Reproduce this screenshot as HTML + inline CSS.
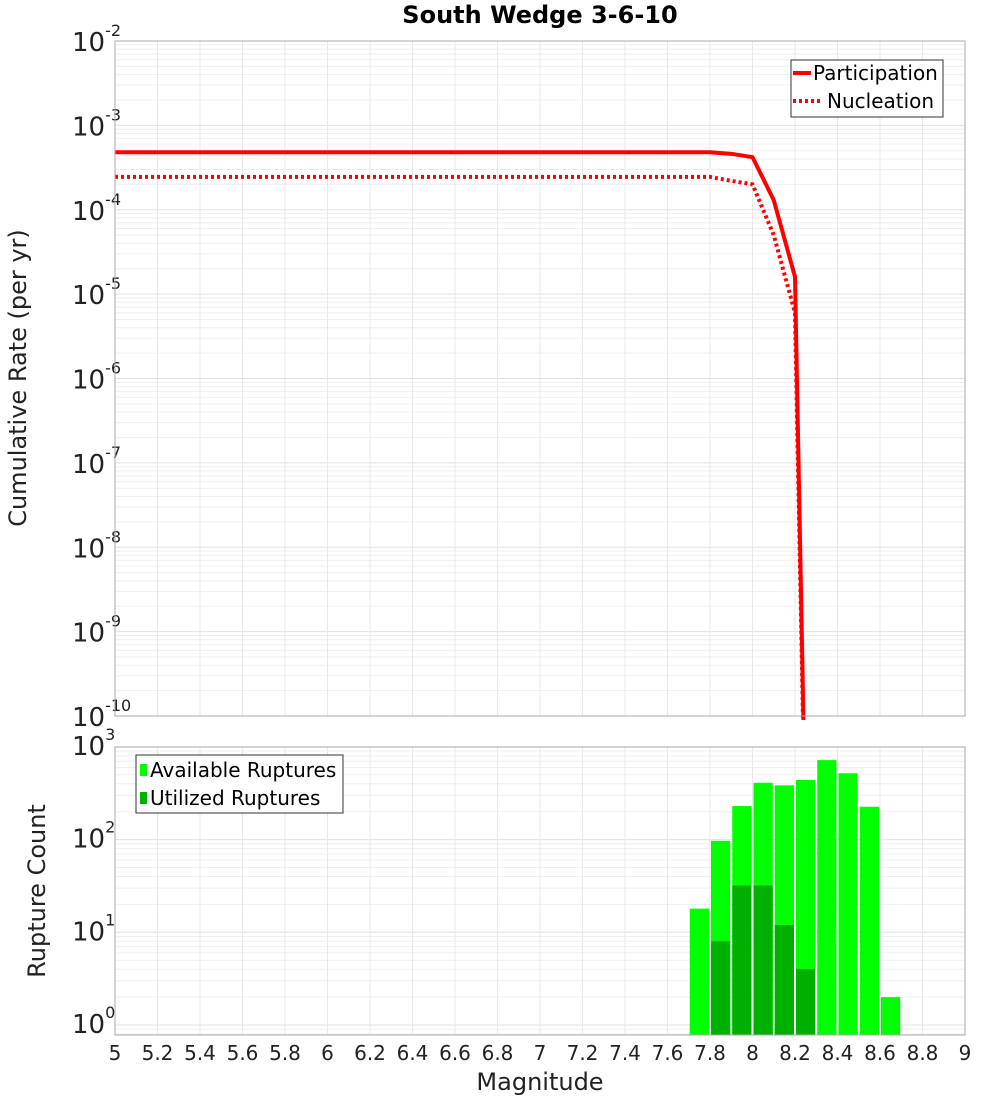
<!DOCTYPE html>
<html><head><meta charset="utf-8"><style>
html,body{margin:0;padding:0;background:#fff;overflow:hidden;width:1000px;height:1100px}
svg{display:block}
</style></head><body>
<svg id="chart" width="1000" height="1100" xmlns="http://www.w3.org/2000/svg" font-family="DejaVu Sans, Liberation Sans, sans-serif"></svg>
<script>
const magnitudes=[5.0,7.8,7.9,8.0,8.1,8.2,8.3];
const participation=[4.8e-4,4.8e-4,4.6e-4,4.2e-4,1.3e-4,1.6e-5,1e-18];
const nucleation=[2.45e-4,2.45e-4,2.2e-4,2.0e-4,5e-5,6e-6,1e-18];
const binStarts=[7.7,7.8,7.9,8.0,8.1,8.2,8.3,8.4,8.5,8.6];
const available=[18,97,230,410,385,440,720,520,226,2];
const utilized=[0,8,32,32,12,4,0,0,0,0];
const xTicks=[5,5.2,5.4,5.6,5.8,6,6.2,6.4,6.6,6.8,7,7.2,7.4,7.6,7.8,8,8.2,8.4,8.6,8.8,9];

const svg=document.getElementById('chart');
const NS='http://www.w3.org/2000/svg';
function mk(tag,attrs,parent){const e=document.createElementNS(NS,tag);for(const k in attrs)e.setAttribute(k,attrs[k]);(parent||svg).appendChild(e);return e;}
const X0=115,X1=965;
const xs=v=>X0+(v-5)/4*(X1-X0);
const T0=41,T1=716;
const ys1=v=>T0+(-2-Math.log10(v))*(T1-T0)/8;
const B0=747,B1=1035,BD=92.7;
const ys2=v=>1025-Math.log10(v)*BD;

function grid(top,bot,ysf,lo,hi,name){
  const g=mk('g',{});
  
  
  for(let d=lo;d<hi;d++){for(let m=1;m<10;m++){const y=ysf(m*Math.pow(10,d));if(y<top-0.5||y>bot+0.5)continue;
    mk('line',{x1:X0,x2:X1,y1:y,y2:y,stroke:m==1?'#e0e0e0':'#efefef','stroke-width':1},g);}}
  xTicks.forEach(t=>mk('line',{x1:xs(t),x2:xs(t),y1:top,y2:bot,stroke:'#e8e8e8','stroke-width':1},g));
}
grid(T0,T1,ys1,-10,-1,'top-grid');
grid(B0,B1,ys2,-1,4,'bottom-grid');

let t=mk('text',{x:540,y:23,'text-anchor':'middle','font-size':24,'font-weight':'bold'});
t.textContent='South Wedge 3-6-10';


for(let e=-10;e<=-2;e++){const y=ys1(Math.pow(10,e));
  const tx=mk('text',{x:72,y:y+10,'font-size':26,fill:'#222'});
  
  
  tx.innerHTML='10<tspan dy="-15" font-size="16">'+e+'</tspan>';}
for(let e=0;e<=3;e++){const y=ys2(Math.pow(10,e));
  const tx=mk('text',{x:72,y:y+8,'font-size':26,fill:'#222'});
  
  
  tx.innerHTML='10<tspan dy="-15" font-size="16">'+e+'</tspan>';}

const defs=mk('defs',{});
const cp=mk('clipPath',{id:'c1'},defs);mk('rect',{x:X0,y:T0,width:X1-X0,height:T1-T0+4},cp);

function pts(arr){return magnitudes.map((m,i)=>xs(m)+','+ys1(arr[i])).join(' ');}
let pl=mk('polyline',{points:pts(participation),fill:'none',stroke:'#ff0000','stroke-width':4,'clip-path':'url(#c1)'});

let nl=mk('polyline',{points:pts(nucleation),fill:'none',stroke:'#ff0000','stroke-width':4,'stroke-dasharray':'3 3','clip-path':'url(#c1)'});


let f1=mk('rect',{x:X0,y:T0,width:X1-X0,height:T1-T0,fill:'none',stroke:'#aaa'});


const lg=mk('g',{});
mk('rect',{x:791,y:60,width:152,height:57,fill:'#fff',stroke:'#333'},lg);
mk('line',{x1:793,x2:811,y1:73,y2:73,stroke:'#f00','stroke-width':4},lg);
mk('line',{x1:793,x2:823,y1:101,y2:101,stroke:'#f00','stroke-width':4,'stroke-dasharray':'3 3'},lg);
let a=mk('text',{x:813,y:80,'font-size':20},lg);a.textContent='Participation';
let b=mk('text',{x:827,y:108,'font-size':20},lg);b.textContent='Nucleation';

const bw=(X1-X0)/40;
binStarts.forEach((s,i)=>{
  const x=xs(s)+1,w=bw-2;
  const y=ys2(available[i]);
  const r=mk('rect',{x:x,y:y,width:w,height:B1-y,fill:'#00ff00'});
  
  
  if(utilized[i]>0){const yu=ys2(utilized[i]);
    const r2=mk('rect',{x:x,y:yu,width:w,height:B1-yu,fill:'#00b000'});
    
    }
});
let f2=mk('rect',{x:X0,y:B0,width:X1-X0,height:B1-B0,fill:'none',stroke:'#aaa'});


const lg2=mk('g',{});
mk('rect',{x:136,y:755,width:207,height:58,fill:'#fff',stroke:'#333'},lg2);
mk('rect',{x:140,y:764,width:7,height:12,fill:'#00ff00'},lg2);
mk('rect',{x:140,y:792,width:7,height:12,fill:'#00b000'},lg2);
let c=mk('text',{x:150,y:777,'font-size':20},lg2);c.textContent='Available Ruptures';
let d=mk('text',{x:150,y:805,'font-size':20},lg2);d.textContent='Utilized Ruptures';

xTicks.forEach(v=>{const tx=mk('text',{x:xs(v),y:1060,'text-anchor':'middle','font-size':20,fill:'#222'});
  
  
  tx.textContent=String(v);});

let xt=mk('text',{x:540,y:1090,'text-anchor':'middle','font-size':24,fill:'#222'});xt.textContent='Magnitude';

let yt=mk('text',{x:0,y:0,'text-anchor':'middle','font-size':24,fill:'#222',transform:'translate(26,378) rotate(-90)'});yt.textContent='Cumulative Rate (per yr)';

let yt2=mk('text',{x:0,y:0,'text-anchor':'middle','font-size':24,fill:'#222',transform:'translate(45,891) rotate(-90)'});yt2.textContent='Rupture Count';

</script>
</body></html>
